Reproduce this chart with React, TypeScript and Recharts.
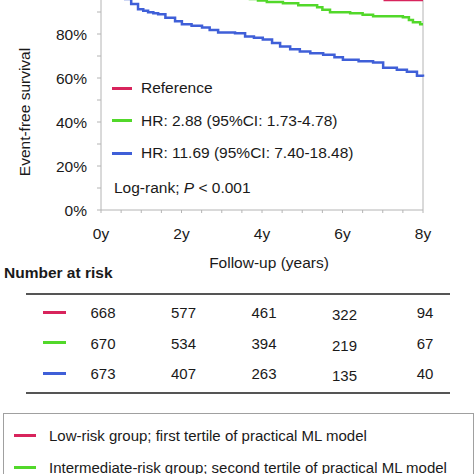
import { Line, LineChart, ReferenceLine, XAxis, YAxis } from "recharts";

// Kaplan-Meier curves, time in years, survival in %
const lowTime = [0, 1, 2, 3, 4, 5, 6, 6.9, 7.05, 8];
const lowSurv = [100, 99.6, 99.2, 98.7, 98.2, 97.6, 97.0, 96.3, 95.4, 95.4];

const midTime = [0, 0.5, 1, 1.5, 2, 2.5, 3, 3.5, 3.7, 3.9, 4.12, 4.52, 4.9, 5.37, 5.5, 5.69, 6.19, 6.5, 6.76, 7.5, 7.65, 7.75, 7.93, 8];
const midSurv = [100, 99.6, 99.1, 98.6, 98.0, 97.5, 96.9, 96.3, 95.9, 95.2, 94.5, 94.0, 93.1, 92.2, 91.0, 89.9, 89.4, 88.7, 88.1, 87.6, 86.4, 85.3, 84.4, 84.4];

const highTime = [0, 0.1, 0.2, 0.3, 0.45, 0.6, 0.75, 0.92, 1.05, 1.17, 1.3, 1.42, 1.6, 1.84, 2.01, 2.25, 2.51, 2.7, 2.91, 3.33, 3.58, 3.8, 4.02, 4.25, 4.45, 4.7, 4.94, 5.2, 5.52, 5.8, 6.01, 6.4, 6.76, 7.01, 7.35, 7.6, 7.85, 8.0];
const highSurv = [100, 99.4, 98.7, 98.0, 97.0, 95.9, 93.6, 91.3, 90.6, 89.9, 89.4, 89.0, 87.4, 85.8, 84.4, 83.8, 83.0, 81.8, 80.7, 80.3, 78.9, 78.3, 77.5, 75.9, 74.3, 73.1, 72.0, 71.3, 70.6, 69.4, 68.3, 67.6, 67.0, 64.7, 63.8, 62.8, 61.0, 60.6];

const xTicks = [0, 0.5, 1, 1.5, 2, 2.5, 3, 3.5, 4, 4.5, 5, 5.5, 6, 6.5, 7, 7.5, 8];
const yTicks = [0, 10, 20, 30, 40, 50, 60, 70, 80, 90, 100];

const riskYears = [0, 2, 4, 6, 8];
const lowRisk = [668, 577, 461, 322, 94];
const midRisk = [670, 534, 394, 219, 67];
const highRisk = [673, 407, 263, 135, 40];

const RED = "#d8245c";
const GREEN = "#52d82a";
const BLUE = "#3f5fd8";
const AXIS = "#b4b4b4";
const FONT = "'Liberation Sans', Arial, sans-serif";

const toRows = (t: number[], s: number[]) => t.map((v, i) => ({ t: v, s: s[i] }));

const groups = [
  { name: "Reference", color: RED, data: toRows(lowTime, lowSurv), risk: lowRisk },
  { name: "HR: 2.88 (95%CI: 1.73-4.78)", color: GREEN, data: toRows(midTime, midSurv), risk: midRisk },
  { name: "HR: 11.69 (95%CI: 7.40-18.48)", color: BLUE, data: toRows(highTime, highSurv), risk: highRisk },
];

const boxLegend = [
  { label: "Low-risk group; first tertile of practical ML model", color: RED },
  { label: "Intermediate-risk group; second tertile of practical ML model", color: GREEN },
];

function Txt({ x, y, children, center, size = 15.5, bold }: any) {
  return (
    <div
      style={{
        position: "absolute",
        left: x,
        top: y,
        transform: center ? "translate(-50%, -50%)" : "translateY(-50%)",
        whiteSpace: "nowrap",
        fontSize: size,
        fontWeight: bold ? 700 : 400,
        color: "#1a1a1a",
        lineHeight: 1,
      }}
    >
      {children}
    </div>
  );
}

function Dash({ x, y, w, color }: { x: number; y: number; w: number; color: string }) {
  return <div style={{ position: "absolute", left: x, top: y - 1.5, width: w, height: 3, background: color }} />;
}

// plot x for a given year, same mapping as the chart margins
const px = (t: number) => 101 + (t * 322) / 8;

export default function App() {
  return (
    <div
      style={{
        position: "absolute",
        left: 0,
        top: 0,
        width: 474,
        height: 474,
        overflow: "hidden",
        background: "#fff",
        fontFamily: FONT,
      }}
    >
      <div style={{ position: "absolute", left: 0, top: -20 }}>
        <LineChart width={474} height={300} margin={{ top: 10, right: 51, bottom: 40, left: 41 }}>
          <XAxis
            type="number"
            dataKey="t"
            domain={[0, 8]}
            ticks={xTicks}
            interval={0}
            tickFormatter={(v: number) => (v % 2 === 0 ? `${v}y` : "")}
            stroke={AXIS}
            tickSize={3}
            tickMargin={15}
            height={30}
            tick={{ fill: "#1a1a1a", fontSize: 15.5, fontFamily: FONT }}
          />
          <YAxis
            type="number"
            domain={[0, 100]}
            ticks={yTicks}
            interval={0}
            tickFormatter={(v: number) => (v % 20 === 0 && v < 100 ? `${v}%` : "")}
            stroke={AXIS}
            tickSize={4}
            tickMargin={10}
            width={60}
            tick={{ fill: "#1a1a1a", fontSize: 15.5, fontFamily: FONT }}
          />
          <ReferenceLine x={8} stroke={AXIS} />
          {groups.map((g) => (
            <Line
              key={g.name}
              data={g.data}
              dataKey="s"
              type="stepAfter"
              stroke={g.color}
              strokeWidth={2.5}
              dot={false}
              isAnimationActive={false}
            />
          ))}
        </LineChart>
      </div>

      <div
        style={{
          position: "absolute",
          left: 25,
          top: 112,
          transform: "translate(-50%, -50%) rotate(-90deg)",
          whiteSpace: "nowrap",
          fontSize: 15.5,
          lineHeight: 1,
          color: "#1a1a1a",
        }}
      >
        Event-free survival
      </div>

      {groups.map((g, i) => (
        <div key={g.name}>
          <Dash x={112} y={88 + i * 32.5} w={20} color={g.color} />
          <Txt x={141} y={88 + i * 32.5}>{g.name}</Txt>
        </div>
      ))}
      <Txt x={114} y={188}>
        Log-rank; <i>P</i> &lt; 0.001
      </Txt>

      <Txt x={269} y={263} center>Follow-up (years)</Txt>
      <Txt x={4} y={273} bold>Number at risk</Txt>

      <div style={{ position: "absolute", left: 26, top: 293, width: 424, height: 2, background: "#555" }} />
      {groups.map((g, i) => (
        <div key={g.name + "r"}>
          <Dash x={43} y={312 + i * 30.5} w={23} color={g.color} />
          {g.risk.map((n, j) => (
            <Txt key={j} x={px(riskYears[j]) + 2} y={312 + i * 30.5 + (j === 3 ? 2 : 0)} center size={15}>
              {n}
            </Txt>
          ))}
        </div>
      ))}
      <div style={{ position: "absolute", left: 26, top: 392, width: 424, height: 2, background: "#555" }} />

      <div
        style={{
          position: "absolute",
          left: 3,
          top: 413,
          width: 469,
          height: 110,
          border: "1px solid #a0a0a0",
        }}
      />
      {boxLegend.map((b, i) => (
        <div key={b.label}>
          <Dash x={14} y={435 + i * 32} w={22} color={b.color} />
          <Txt x={49} y={435 + i * 32} size={15}>{b.label}</Txt>
        </div>
      ))}
    </div>
  );
}
